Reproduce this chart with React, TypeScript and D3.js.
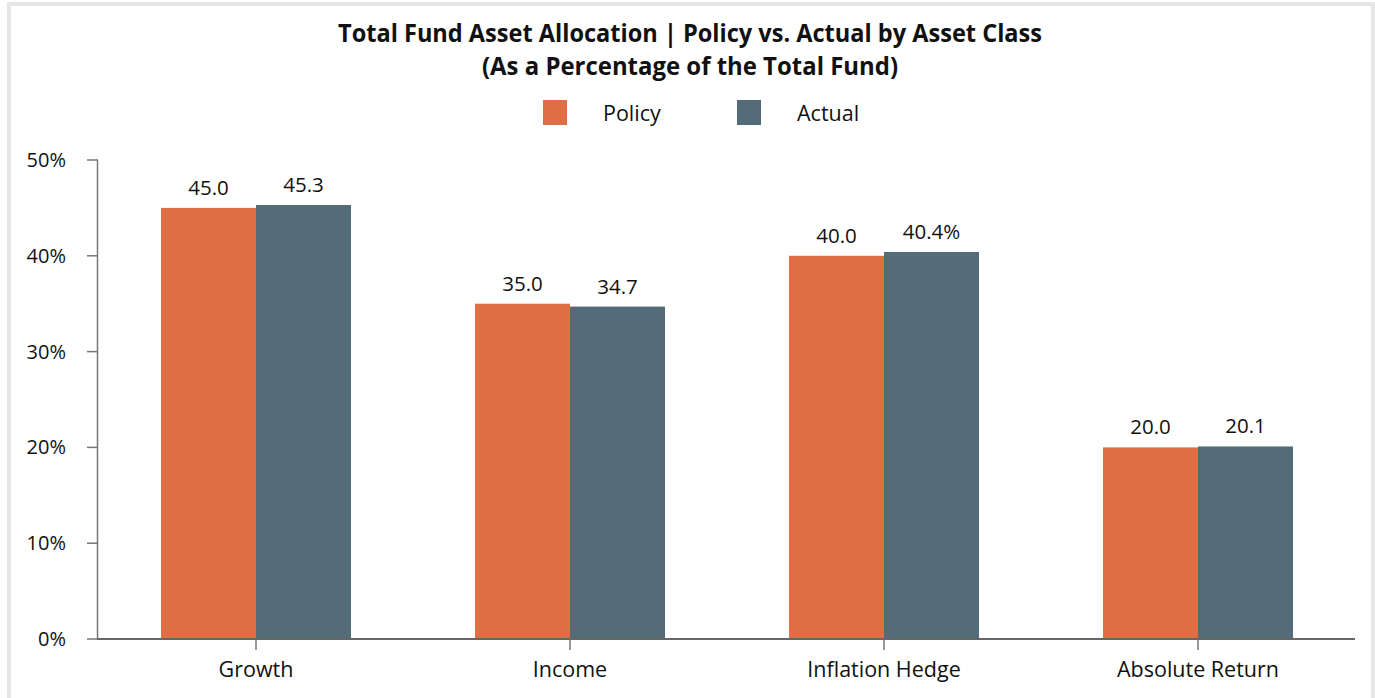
import React from "react";
import * as d3 from "d3";

const categories = ["Growth", "Income", "Inflation Hedge", "Absolute Return"];
const seriesNames = ["Policy", "Actual"];
const policyValues = [45.0, 35.0, 40.0, 20.0];
const actualValues = [45.3, 34.7, 40.4, 20.1];
const actualLabels = ["45.3", "34.7", "40.4%", "20.1"];
const policyLabels = ["45.0", "35.0", "40.0", "20.0"];
const yTicks = [0, 10, 20, 30, 40, 50];
const colors = ["#DE6E44", "#536C78"];

const W = 1375;
const H = 698;
const FONT = "'Open Sans', 'Noto Sans', sans-serif";

export default function App() {
  const x = d3
    .scaleBand<string>()
    .domain(categories)
    .range([99, 1355])
    .paddingInner(0.395)
    .paddingOuter(0.1975);
  const xs = d3.scaleBand<string>().domain(seriesNames).range([0, x.bandwidth()]);
  const y = d3.scaleLinear().domain([0, 50]).range([639, 160]);

  const series = [
    { name: seriesNames[0], values: policyValues, labels: policyLabels, color: colors[0] },
    { name: seriesNames[1], values: actualValues, labels: actualLabels, color: colors[1] },
  ];

  return (
    <svg
      width={W}
      height={H}
      style={{ position: "absolute", left: 0, top: 0, background: "#fff" }}
      fontFamily={FONT}
    >
      {/* frame */}
      <rect x={7} y={2} width={1368} height={4} fill="#e6e6e6" />
      <rect x={7} y={2} width={4} height={696} fill="#e6e6e6" />
      <rect x={1371} y={2} width={4} height={696} fill="#e6e6e6" />

      {/* title */}
      <text x={690} y={42} textAnchor="middle" fontSize={25} fontWeight={700} fill="#111" textLength={704} lengthAdjust="spacingAndGlyphs">
        Total Fund Asset Allocation | Policy vs. Actual by Asset Class
      </text>
      <text x={690} y={75} textAnchor="middle" fontSize={25} fontWeight={700} fill="#111" textLength={416} lengthAdjust="spacingAndGlyphs">
        (As a Percentage of the Total Fund)
      </text>

      {/* legend */}
      {series.map((s, i) => (
        <g key={s.name} transform={`translate(${543 + i * 194},100)`}>
          <rect x={0} y={0} width={24} height={25} fill={s.color} />
          <text x={60} y={21} fontSize={21.5} fill="#111">
            {s.name}
          </text>
        </g>
      ))}

      {/* y axis */}
      <line x1={97.5} x2={97.5} y1={y(50)} y2={y(0)} stroke="#777" strokeWidth={1.5} />
      {yTicks.map((t) => (
        <g key={t}>
          <line x1={87} x2={98} y1={y(t)} y2={y(t)} stroke="#777" strokeWidth={1.5} />
          <text x={66} y={y(t) + 7} textAnchor="end" fontSize={20} fill="#111">
            {t}%
          </text>
        </g>
      ))}

      {/* bars */}
      {categories.map((c, ci) => (
        <g key={c} transform={`translate(${x(c)},0)`}>
          {series.map((s) => (
            <g key={s.name}>
              <rect
                x={xs(s.name)}
                y={y(s.values[ci])}
                width={xs.bandwidth()}
                height={y(0) - y(s.values[ci])}
                fill={s.color}
              />
              <text
                x={(xs(s.name) as number) + xs.bandwidth() / 2}
                y={y(s.values[ci]) - 13}
                textAnchor="middle"
                fontSize={20.5}
                fill="#111"
              >
                {s.labels[ci]}
              </text>
            </g>
          ))}
        </g>
      ))}

      {/* x axis */}
      <line x1={97} x2={1355} y1={639} y2={639} stroke="#666" strokeWidth={2} />
      {categories.map((c) => {
        const cx = (x(c) as number) + x.bandwidth() / 2;
        return (
          <g key={c}>
            <line x1={cx} x2={cx} y1={639} y2={650} stroke="#777" strokeWidth={1.5} />
            <text x={cx} y={677} textAnchor="middle" fontSize={21.5} fill="#111">
              {c}
            </text>
          </g>
        );
      })}
    </svg>
  );
}
